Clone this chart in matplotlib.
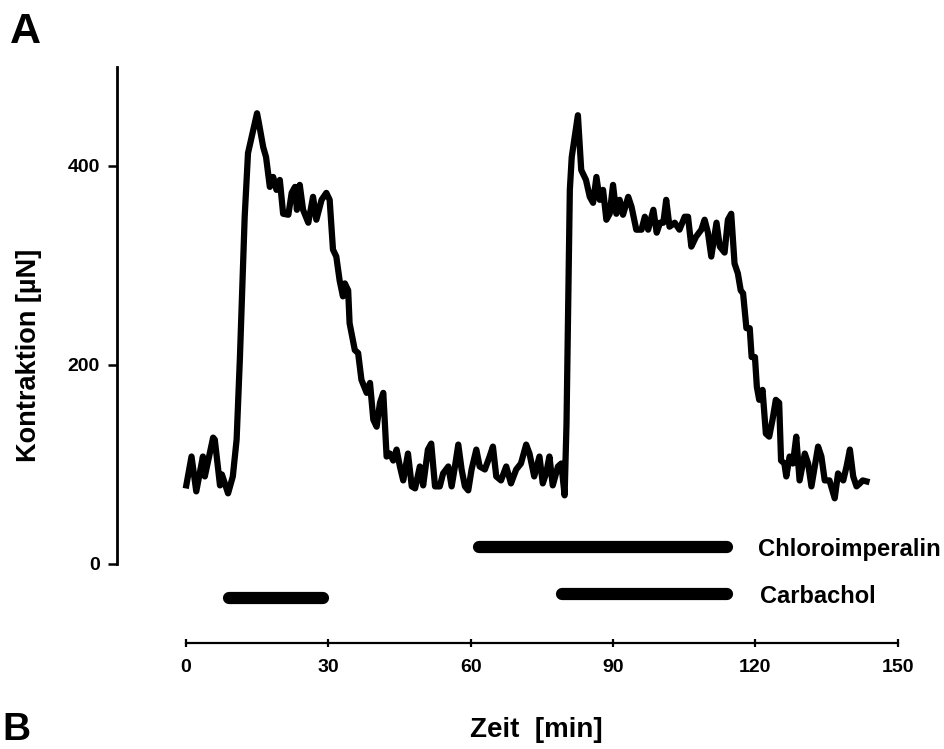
import numpy as np
import matplotlib
matplotlib.use('Agg')
import matplotlib.pyplot as plt

plt.rcParams['font.family'] = ['Liberation Sans', 'DejaVu Sans']
plt.rcParams['font.weight'] = 'bold'

# trace: time [min], contraction [uN]
zeit = [0.1, 1.2, 2.2, 3.6, 4.0, 5.75, 6.1, 7.2, 7.6, 8.9, 9.9, 10.7, 11.4, 12.4, 13.1,
        14.2, 15.0, 15.4, 16.3, 16.9, 17.7, 18.4, 19.1, 19.8, 20.5, 21.6, 22.3, 23.0, 23.4,
        24.0, 24.7, 25.8, 26.8, 27.5, 28.6, 29.6, 30.3, 31.0, 31.7, 32.4, 33.1, 33.5, 34.2,
        34.5, 35.6, 36.3, 37.0, 38.1, 38.8, 39.5, 40.2, 40.9, 41.6, 42.3, 43.0, 43.7, 44.4,
        45.1, 45.8, 46.8, 47.6, 48.3, 49.3, 50.0, 51.0, 51.7, 52.5, 53.5, 54.2, 55.3, 56.0,
        56.7, 57.4, 58.1, 58.8, 59.5, 60.2, 61.2, 61.9, 63.0, 64.0, 64.7, 65.4, 66.4, 67.5,
        68.5, 69.6, 70.6, 71.7, 72.4, 73.4, 74.5, 75.2, 75.9, 76.6, 77.3, 78.4, 79.1, 79.8,
        80.2, 80.9, 81.3, 82.6, 83.3, 84.3, 85.1, 85.8, 86.5, 87.2, 87.9, 88.6, 89.3, 90.0,
        90.7, 91.4, 92.1, 93.2, 93.9, 94.9, 96.0, 96.7, 97.4, 98.5, 99.2, 99.9, 100.6, 101.2,
        101.9, 103.0, 104.0, 105.1, 105.8, 106.5, 107.5, 108.6, 109.3, 110.0, 110.7, 111.8,
        112.5, 113.5, 114.2, 114.9, 115.6, 116.3, 116.9, 117.4, 118.1, 118.8, 119.2, 119.9,
        120.3, 120.8, 121.5, 122.2, 122.9, 123.6, 124.3, 125.0, 125.4, 126.1, 126.5, 127.2,
        127.9, 128.6, 129.3, 130.4, 131.1, 131.8, 133.2, 133.9, 134.6, 135.6, 136.7, 137.4,
        138.5, 139.2, 139.9, 140.6, 141.3, 142.0, 142.6, 143.4]
kontraktion = [79, 108, 73, 108, 88, 127, 125, 79, 90, 71, 88, 125, 208, 349, 413,
               436, 453, 443, 419, 409, 379, 389, 376, 386, 352, 351, 373, 379, 356,
               381, 356, 343, 369, 346, 366, 373, 366, 316, 309, 285, 269, 282, 275,
               242, 215, 212, 185, 172, 182, 145, 138, 162, 172, 108, 111, 104, 115,
               98, 84, 111, 78, 76, 98, 79, 115, 121, 78, 78, 91, 98, 78,
               98, 120, 95, 78, 74, 95, 115, 98, 95, 108, 118, 88, 84, 98,
               81, 95, 101, 120, 111, 88, 108, 81, 91, 108, 79, 98, 101, 69,
               141, 376, 409, 451, 396, 386, 369, 363, 389, 366, 376, 346, 352, 381,
               352, 366, 351, 369, 359, 336, 336, 349, 336, 356, 333, 343, 343, 366,
               339, 343, 336, 349, 349, 319, 329, 336, 346, 333, 309, 343,
               319, 313, 346, 352, 302, 292, 275, 272, 237, 237, 208, 208,
               178, 165, 175, 131, 128, 145, 165, 162, 104, 101, 88, 108,
               101, 128, 84, 111, 101, 78, 118, 108, 84, 84, 66, 91,
               84, 98, 115, 88, 78, 81, 84, 83]

# application bars
chloro_start = [61.7]
chloro_end = [114.0]
chloro_level = 17
carba_start = [9.2, 79.2]
carba_end = [28.9, 114.0]
carba_level = [-34, -30]

x_ticks = [0, 30, 60, 90, 120, 150]
y_ticks = [0, 200, 400]

fig = plt.figure(figsize=(9.44, 7.49), dpi=100)
ax = fig.add_axes([117 / 944, 106 / 749, 818.8 / 944, 576.5 / 749])

ax.plot(zeit, kontraktion, color='black', lw=4.5, solid_joinstyle='round', zorder=3)

for s, e in zip(chloro_start, chloro_end):
    ax.plot([s, e], [chloro_level, chloro_level], color='black', lw=8.8,
            solid_capstyle='round', clip_on=False)
for s, e, lvl in zip(carba_start, carba_end, carba_level):
    ax.plot([s, e], [lvl, lvl], color='black', lw=8.8,
            solid_capstyle='round', clip_on=False)

ax.text(120.5, 8.5, 'Chloroimperalin', fontsize=17.2, fontweight='bold', va='baseline')
ax.text(121.0, -39.2, 'Carbachol', fontsize=17, fontweight='bold', va='baseline')

ax.set_xlim(-14.5, 158)
ax.set_ylim(-79.4, 500)
ax.spines['top'].set_visible(False)
ax.spines['right'].set_visible(False)
ax.spines['left'].set_bounds(0, 500)
ax.spines['bottom'].set_bounds(0, 150)
ax.spines['left'].set_linewidth(2)
ax.spines['bottom'].set_linewidth(1.6)

ax.set_xticks(x_ticks)
ax.set_yticks(y_ticks)
ax.tick_params(axis='x', direction='inout', length=5.5, width=1.6, pad=9, labelsize=14)
ax.tick_params(axis='y', direction='out', length=6.5, width=1.8, pad=6, labelsize=14)
for lab in ax.get_xticklabels() + ax.get_yticklabels():
    lab.set_fontweight('bold')

fig.text(29.5 / 944, 1 - 355 / 749, 'Kontraktion [µN]', rotation=90, fontsize=19.5,
         fontweight='bold', ha='center', va='center')
fig.text(536 / 944, 1 - 730 / 749, 'Zeit  [min]', fontsize=20, fontweight='bold',
         ha='center', va='center')
fig.text(10 / 944, 1 - 43 / 749, 'A', fontsize=31, fontweight='bold', va='baseline')
fig.text(2 / 944, 1 - 740 / 749, 'B', fontsize=28, fontweight='bold', va='baseline')

fig.savefig('out.png', dpi=100, facecolor='white')
